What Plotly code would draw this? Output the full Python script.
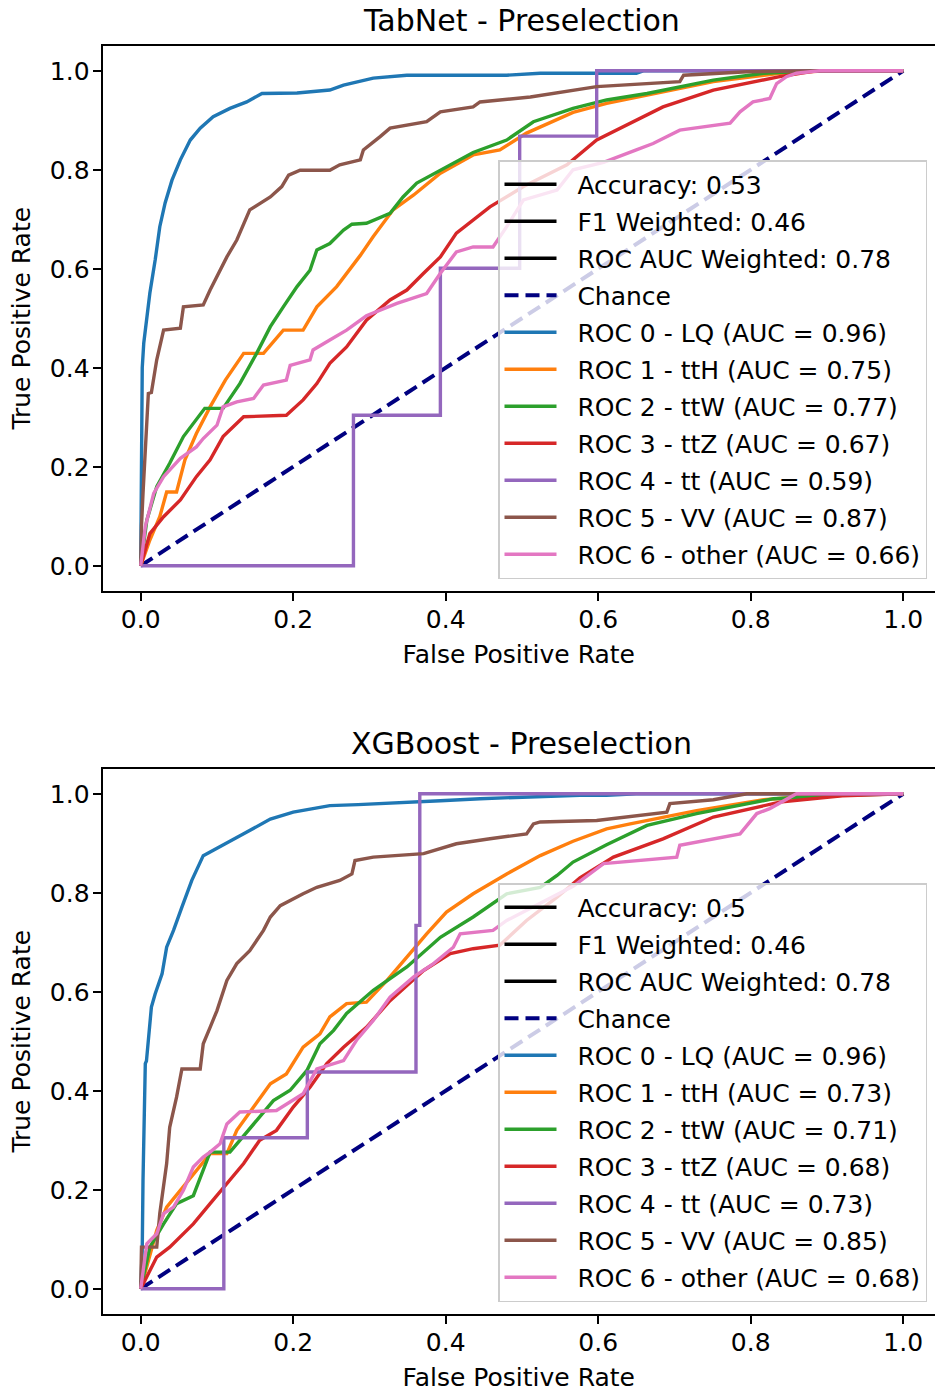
import plotly.graph_objects as go

# ---------------- data ----------------
class_names = ["ROC 0 - LQ", "ROC 1 - ttH", "ROC 2 - ttW", "ROC 3 - ttZ",
               "ROC 4 - tt", "ROC 5 - VV", "ROC 6 - other"]

# TabNet
tabnet_auc = [0.96, 0.75, 0.77, 0.67, 0.59, 0.87, 0.66]
tabnet_metrics = ["Accuracy: 0.53", "F1 Weighted: 0.46", "ROC AUC Weighted: 0.78"]

tabnet_fpr_lq = [0, 0.001, 0.002, 0.004, 0.008, 0.012, 0.019, 0.025, 0.032, 0.041, 0.052, 0.065, 0.078, 0.095, 0.117, 0.139, 0.159, 0.205, 0.248, 0.266, 0.305, 0.349, 0.48, 0.524, 0.65, 0.66, 1.0]
tabnet_tpr_lq = [0, 0.2, 0.40, 0.45, 0.50, 0.551, 0.618, 0.685, 0.733, 0.779, 0.820, 0.860, 0.884, 0.907, 0.924, 0.937, 0.954, 0.955, 0.961, 0.971, 0.985, 0.991, 0.991, 0.995, 0.995, 1.0, 1.0]

tabnet_fpr_tth = [0, 0.012, 0.025, 0.034, 0.047, 0.058, 0.073, 0.091, 0.111, 0.135, 0.161, 0.187, 0.213, 0.231, 0.257, 0.288, 0.305, 0.331, 0.358, 0.393, 0.436, 0.471, 0.506, 0.567, 0.611, 0.664, 0.751, 0.838, 0.90, 1.0]
tabnet_tpr_tth = [0, 0.052, 0.099, 0.149, 0.149, 0.214, 0.267, 0.321, 0.375, 0.429, 0.429, 0.476, 0.476, 0.523, 0.564, 0.627, 0.665, 0.719, 0.749, 0.793, 0.830, 0.840, 0.874, 0.916, 0.934, 0.951, 0.978, 0.995, 1.0, 1.0]

tabnet_fpr_ttw = [0, 0.008, 0.021, 0.038, 0.056, 0.069, 0.084, 0.108, 0.130, 0.152, 0.170, 0.187, 0.205, 0.222, 0.231, 0.248, 0.266, 0.277, 0.296, 0.327, 0.344, 0.362, 0.393, 0.436, 0.48, 0.515, 0.567, 0.611, 0.664, 0.751, 0.817, 0.885, 1.0]
tabnet_tpr_ttw = [0, 0.092, 0.160, 0.207, 0.261, 0.288, 0.318, 0.318, 0.368, 0.429, 0.483, 0.523, 0.564, 0.597, 0.638, 0.651, 0.678, 0.690, 0.692, 0.712, 0.745, 0.773, 0.799, 0.835, 0.86, 0.897, 0.924, 0.941, 0.954, 0.981, 0.995, 1.0, 1.0]

tabnet_fpr_ttz = [0, 0.012, 0.030, 0.052, 0.073, 0.091, 0.108, 0.135, 0.191, 0.213, 0.231, 0.248, 0.270, 0.296, 0.327, 0.349, 0.371, 0.393, 0.414, 0.458, 0.502, 0.559, 0.598, 0.642, 0.685, 0.751, 0.838, 0.886, 1.0]
tabnet_tpr_ttz = [0, 0.065, 0.099, 0.133, 0.180, 0.214, 0.261, 0.301, 0.304, 0.335, 0.368, 0.409, 0.442, 0.496, 0.537, 0.557, 0.591, 0.624, 0.672, 0.725, 0.766, 0.810, 0.86, 0.894, 0.927, 0.961, 0.988, 1.0, 1.0]

tabnet_fpr_tt = [0, 0.279, 0.279, 0.393, 0.393, 0.497, 0.497, 0.598, 0.598, 1.0]
tabnet_tpr_tt = [0, 0, 0.304, 0.304, 0.601, 0.601, 0.868, 0.868, 1.0, 1.0]

tabnet_fpr_vv = [0, 0.001, 0.003, 0.010, 0.014, 0.021, 0.030, 0.052, 0.056, 0.082, 0.091, 0.104, 0.113, 0.126, 0.135, 0.143, 0.170, 0.185, 0.194, 0.209, 0.248, 0.261, 0.288, 0.292, 0.314, 0.327, 0.375, 0.393, 0.436, 0.445, 0.511, 0.546, 0.598, 0.707, 0.712, 0.795, 0.891, 1.0]
tabnet_tpr_vv = [0, 0.08, 0.146, 0.348, 0.35, 0.416, 0.476, 0.48, 0.523, 0.527, 0.557, 0.597, 0.624, 0.658, 0.692, 0.719, 0.745, 0.766, 0.789, 0.799, 0.799, 0.81, 0.82, 0.84, 0.867, 0.884, 0.897, 0.917, 0.927, 0.937, 0.947, 0.955, 0.968, 0.978, 0.991, 0.998, 1.0, 1.0]

tabnet_fpr_other = [0, 0.006, 0.017, 0.030, 0.052, 0.073, 0.082, 0.100, 0.108, 0.126, 0.148, 0.161, 0.191, 0.196, 0.222, 0.226, 0.248, 0.270, 0.296, 0.336, 0.375, 0.393, 0.414, 0.436, 0.462, 0.48, 0.502, 0.546, 0.567, 0.607, 0.650, 0.672, 0.707, 0.773, 0.786, 0.803, 0.825, 0.834, 0.847, 0.86, 0.89, 1.0]
tabnet_tpr_other = [0, 0.079, 0.146, 0.180, 0.217, 0.240, 0.257, 0.284, 0.321, 0.331, 0.338, 0.365, 0.375, 0.405, 0.416, 0.436, 0.456, 0.476, 0.505, 0.530, 0.550, 0.591, 0.634, 0.644, 0.644, 0.685, 0.739, 0.759, 0.80, 0.815, 0.840, 0.853, 0.880, 0.894, 0.917, 0.937, 0.944, 0.974, 0.988, 0.995, 1.0, 1.0]

# XGBoost
xgb_auc = [0.96, 0.73, 0.71, 0.68, 0.73, 0.85, 0.68]
xgb_metrics = ["Accuracy: 0.5", "F1 Weighted: 0.46", "ROC AUC Weighted: 0.78"]

xgb_fpr_lq = [0, 0.002, 0.003, 0.006, 0.0075, 0.014, 0.019, 0.028, 0.034, 0.043, 0.054, 0.067, 0.082, 0.108, 0.135, 0.170, 0.200, 0.248, 0.285, 0.393, 0.445, 0.576, 0.611, 0.65, 1.0]
xgb_tpr_lq = [0, 0.08, 0.219, 0.455, 0.46, 0.569, 0.596, 0.636, 0.690, 0.724, 0.771, 0.825, 0.875, 0.896, 0.919, 0.949, 0.963, 0.976, 0.978, 0.986, 0.990, 0.997, 0.997, 1.0, 1.0]

xgb_fpr_tth = [0, 0.021, 0.034, 0.052, 0.073, 0.091, 0.113, 0.126, 0.148, 0.170, 0.191, 0.213, 0.235, 0.248, 0.270, 0.296, 0.323, 0.349, 0.375, 0.401, 0.436, 0.480, 0.524, 0.567, 0.611, 0.642, 0.729, 0.817, 0.90, 1.0]
xgb_tpr_tth = [0, 0.118, 0.165, 0.199, 0.239, 0.273, 0.273, 0.320, 0.367, 0.414, 0.434, 0.488, 0.515, 0.549, 0.576, 0.579, 0.623, 0.670, 0.717, 0.761, 0.798, 0.838, 0.875, 0.904, 0.929, 0.939, 0.966, 0.988, 0.998, 1.0]

xgb_fpr_ttw = [0, 0.012, 0.030, 0.047, 0.069, 0.082, 0.091, 0.117, 0.130, 0.152, 0.174, 0.196, 0.218, 0.235, 0.253, 0.270, 0.305, 0.349, 0.393, 0.436, 0.480, 0.524, 0.546, 0.567, 0.611, 0.664, 0.729, 0.830, 0.92, 1.0]
xgb_tpr_ttw = [0, 0.084, 0.131, 0.172, 0.188, 0.239, 0.276, 0.276, 0.300, 0.340, 0.380, 0.401, 0.441, 0.495, 0.522, 0.556, 0.603, 0.650, 0.710, 0.751, 0.798, 0.811, 0.835, 0.862, 0.897, 0.936, 0.960, 0.990, 0.997, 1.0]

xgb_fpr_ttz = [0, 0.021, 0.038, 0.069, 0.091, 0.113, 0.135, 0.156, 0.178, 0.200, 0.222, 0.244, 0.266, 0.296, 0.327, 0.371, 0.406, 0.436, 0.471, 0.506, 0.546, 0.576, 0.620, 0.685, 0.751, 0.838, 0.92, 1.0]
xgb_tpr_ttz = [0, 0.064, 0.084, 0.131, 0.172, 0.212, 0.253, 0.300, 0.320, 0.367, 0.407, 0.455, 0.488, 0.528, 0.582, 0.643, 0.677, 0.687, 0.694, 0.744, 0.791, 0.830, 0.872, 0.909, 0.953, 0.983, 0.996, 1.0]

xgb_fpr_tt = [0, 0.109, 0.109, 0.2185, 0.2185, 0.361, 0.361, 0.366, 0.366, 1.0]
xgb_tpr_tt = [0, 0, 0.305, 0.305, 0.438, 0.438, 0.734, 0.734, 1.0, 1.0]

xgb_fpr_vv = [0, 0.001, 0.021, 0.025, 0.034, 0.038, 0.047, 0.054, 0.078, 0.082, 0.091, 0.100, 0.113, 0.126, 0.143, 0.161, 0.170, 0.183, 0.213, 0.231, 0.261, 0.277, 0.281, 0.305, 0.371, 0.414, 0.458, 0.506, 0.515, 0.524, 0.598, 0.690, 0.694, 0.751, 0.795, 1.0]
xgb_tpr_vv = [0, 0.084, 0.084, 0.152, 0.253, 0.326, 0.387, 0.444, 0.444, 0.495, 0.528, 0.562, 0.623, 0.657, 0.683, 0.724, 0.751, 0.774, 0.798, 0.811, 0.825, 0.838, 0.865, 0.872, 0.879, 0.899, 0.909, 0.919, 0.939, 0.943, 0.946, 0.963, 0.980, 0.988, 1.0, 1.0]

xgb_fpr_other = [0, 0.008, 0.021, 0.030, 0.043, 0.056, 0.069, 0.082, 0.091, 0.104, 0.113, 0.130, 0.178, 0.213, 0.231, 0.266, 0.283, 0.305, 0.327, 0.358, 0.384, 0.410, 0.419, 0.462, 0.48, 0.524, 0.567, 0.607, 0.703, 0.707, 0.786, 0.808, 0.825, 0.86, 1.0]
xgb_tpr_other = [0, 0.091, 0.111, 0.152, 0.165, 0.199, 0.246, 0.266, 0.276, 0.293, 0.333, 0.357, 0.360, 0.394, 0.444, 0.461, 0.502, 0.542, 0.589, 0.630, 0.657, 0.690, 0.717, 0.724, 0.744, 0.778, 0.813, 0.859, 0.872, 0.896, 0.919, 0.960, 0.970, 1.0, 1.0]

chance_x = [0, 1]
chance_y = [0, 1]

tick_vals = [0.0, 0.2, 0.4, 0.6, 0.8, 1.0]
tick_text = ["0.0", "0.2", "0.4", "0.6", "0.8", "1.0"]

titles = ["TabNet - Preselection", "XGBoost - Preselection"]

# ---------------- style ----------------
colors = ["#1f77b4", "#ff7f0e", "#2ca02c", "#d62728", "#9467bd", "#8c564b", "#e377c2"]
FONT = "DejaVu Sans"
FS = 25
W, H = 935, 1392
PAD = "\u00a0\u00a0"  # gap between legend handle and label

panels = [
    dict(auc=tabnet_auc, metrics=tabnet_metrics,
         curves=[(tabnet_fpr_lq, tabnet_tpr_lq), (tabnet_fpr_tth, tabnet_tpr_tth),
                 (tabnet_fpr_ttw, tabnet_tpr_ttw), (tabnet_fpr_ttz, tabnet_tpr_ttz),
                 (tabnet_fpr_tt, tabnet_tpr_tt), (tabnet_fpr_vv, tabnet_tpr_vv),
                 (tabnet_fpr_other, tabnet_tpr_other)]),
    dict(auc=xgb_auc, metrics=xgb_metrics,
         curves=[(xgb_fpr_lq, xgb_tpr_lq), (xgb_fpr_tth, xgb_tpr_tth),
                 (xgb_fpr_ttw, xgb_tpr_ttw), (xgb_fpr_ttz, xgb_tpr_ttz),
                 (xgb_fpr_tt, xgb_tpr_tt), (xgb_fpr_vv, xgb_tpr_vv),
                 (xgb_fpr_other, xgb_tpr_other)]),
]

# pixel layout (from top of figure)
plot_top = [46, 769]
plot_bot = [590.5, 1313.5]
plot_left = 102.6
x0_px, x1_px = 140.7, 903.2
unit_x = x1_px - x0_px
legend_top = [160, 883]
legend_right = 927

fig = go.Figure()

for i, p in enumerate(panels):
    xa = "x" if i == 0 else "x2"
    ya = "y" if i == 0 else "y2"
    lg = "legend" if i == 0 else "legend2"
    k = 0
    for m in p["metrics"]:
        fig.add_trace(go.Scatter(x=[None], y=[None], mode="lines", name=PAD + m,
                                 line=dict(color="black", width=3.5),
                                 xaxis=xa, yaxis=ya, legend=lg,
                                 legendgroup=f"g{i}_{k}", hoverinfo="skip"))
        k += 1
    fig.add_trace(go.Scatter(x=chance_x, y=chance_y, mode="lines", name=PAD + "Chance",
                             line=dict(color="#000080", width=4, dash="14px,7px"),
                             xaxis=xa, yaxis=ya, legend=lg, legendgroup=f"g{i}_{k}"))
    k += 1
    for c, (fx, ty) in enumerate(p["curves"]):
        fig.add_trace(go.Scatter(x=fx, y=ty, mode="lines",
                                 name=PAD + f"{class_names[c]} (AUC = {p['auc'][c]:.2f})",
                                 line=dict(color=colors[c], width=3.4),
                                 xaxis=xa, yaxis=ya, legend=lg, legendgroup=f"g{i}_{k}"))
        k += 1

axis_common = dict(
    showgrid=False, zeroline=False, showline=True, linecolor="black", linewidth=2,
    ticks="outside", ticklen=8, tickwidth=2, tickcolor="black",
    tickvals=tick_vals, ticktext=tick_text,
    tickfont=dict(family=FONT, size=FS, color="black"),
    automargin=False,
)

xrange = [-0.05, (W - x0_px) / unit_x]
for i in range(2):
    ydom = [1 - plot_bot[i] / H, 1 - plot_top[i] / H]
    xkey = "xaxis" if i == 0 else "xaxis2"
    ykey = "yaxis" if i == 0 else "yaxis2"
    fig.update_layout(**{
        xkey: dict(axis_common, domain=[plot_left / W, 1], range=xrange, mirror=True,
                   anchor="y" if i == 0 else "y2", ticklabelstandoff=-3,
                   title=dict(text="False Positive Rate", standoff=13,
                              font=dict(family=FONT, size=FS, color="black"))),
        ykey: dict(axis_common, domain=ydom, range=[-0.05, 1.05], mirror=False,
                   anchor="x" if i == 0 else "x2", ticklabelstandoff=-2,
                   title=dict(text="True Positive Rate", standoff=12,
                              font=dict(family=FONT, size=FS, color="black"))),
    })
    lkey = "legend" if i == 0 else "legend2"
    fig.update_layout(**{
        lkey: dict(x=legend_right / W, xanchor="right", y=1 - legend_top[i] / H, yanchor="top",
                   xref="paper", yref="paper",
                   bgcolor="rgba(255,255,255,0.8)", bordercolor="#cccccc", borderwidth=1.5,
                   font=dict(family=FONT, size=FS, color="black"),
                   traceorder="grouped", tracegroupgap=1.5, itemwidth=52)
    })
    axes_center = (plot_left + (plot_left + 1.1 * unit_x)) / 2 / W
    fig.add_annotation(text=titles[i], xref="paper", yref="paper",
                       x=axes_center, y=1 - (plot_top[i] - 26) / H,
                       xanchor="center", yanchor="middle", showarrow=False,
                       font=dict(family=FONT, size=30, color="black"))

fig.update_layout(width=W, height=H, margin=dict(l=0, r=0, t=0, b=0),
                  paper_bgcolor="white", plot_bgcolor="white",
                  font=dict(family=FONT, size=FS, color="black"))

fig.write_html("out.html")
